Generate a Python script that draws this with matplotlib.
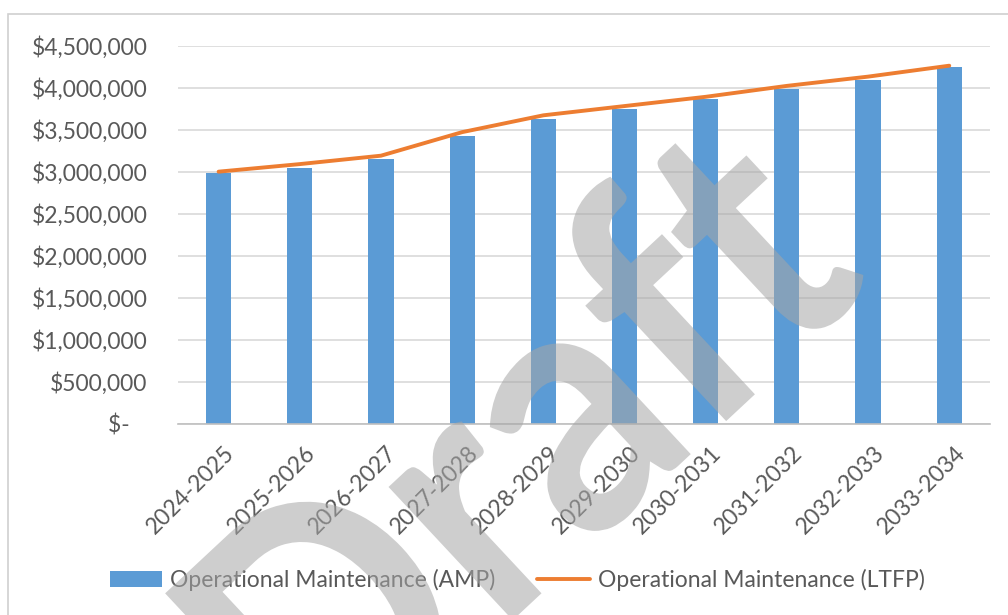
import numpy as np
import matplotlib
matplotlib.use("Agg")
import matplotlib.pyplot as plt
import matplotlib.transforms as mtransforms
from matplotlib.ticker import FuncFormatter
from matplotlib.patches import Rectangle, PathPatch
from matplotlib.textpath import TextPath
from matplotlib.font_manager import FontProperties

# financial years and the two maintenance series ($)
years = ['2024-2025', '2025-2026', '2026-2027', '2027-2028', '2028-2029',
         '2029-2030', '2030-2031', '2031-2032', '2032-2033', '2033-2034']
amp = [2990000, 3040000, 3150000, 3430000, 3630000,
       3740000, 3860000, 3980000, 4090000, 4240000]
ltfp = [3000000, 3090000, 3190000, 3470000, 3670000,
        3780000, 3890000, 4020000, 4130000, 4260000]

plt.rcParams['font.family'] = ['Lato', 'DejaVu Sans']
text_col = '#595959'
grid_col = '#D9D9D9'

fig = plt.figure(figsize=(10.08, 6.15), dpi=100)
ax = fig.add_axes([0.1766, 0.3106, 0.8054, 0.6154])

x = np.arange(len(years))
bars = ax.bar(x, amp, width=0.31, color='#5B9BD5', zorder=2,
              label='Operational Maintenance (AMP)')
line, = ax.plot(x, ltfp, color='#ED7D31', lw=2.8, zorder=3,
                solid_capstyle='round',
                label='Operational Maintenance (LTFP)')

ax.set_xlim(-0.5, len(years) - 0.5)
ax.set_ylim(0, 4500000)
ax.set_yticks(np.arange(0, 4500001, 500000))


def money(v, pos):
    if v == 0:
        return '$-   '
    return '${:,.0f}'.format(v)


ax.yaxis.set_major_formatter(FuncFormatter(money))
ax.set_xticks(x)
ax.set_xticklabels(years, rotation=45, ha='right', va='top',
                   rotation_mode='anchor')
ax.tick_params(axis='y', length=0, pad=22, labelsize=16.5, labelcolor=text_col)
ax.tick_params(axis='x', length=0, pad=13, labelsize=16.5, labelcolor=text_col)
shift = mtransforms.ScaledTranslation(5 / 100, 0, fig.dpi_scale_trans)
for lab in ax.get_xticklabels():
    lab.set_transform(lab.get_transform() + shift)

ax.grid(axis='y', color=grid_col, lw=1.2, zorder=0)
for s in ['top', 'right', 'left']:
    ax.spines[s].set_visible(False)
ax.spines['bottom'].set_color('#BFBFBF')
ax.spines['bottom'].set_linewidth(1.2)

leg = fig.legend([bars, line], [bars.get_label(), line.get_label()],
                 loc='center', bbox_to_anchor=(0.513, 0.057), ncol=2,
                 frameon=False, fontsize=16.5, handlelength=2.3,
                 handleheight=0.65, handletextpad=0.35, columnspacing=1.8)
for t in leg.get_texts():
    t.set_color(text_col)

# chart area border
fig.patches.append(Rectangle((8 / 1008, -0.1), 1.1, 1.1 - 14 / 615,
                             transform=fig.transFigure, fill=False,
                             edgecolor='#D0D0D0', lw=1.2))

# watermark, narrowed to a ~2.05 em ink width, then rotated (pixel coords)
wm_path = TextPath((0, 0), 'Draft', size=1,
                   prop=FontProperties(family='Lato', weight='bold'))
ext = wm_path.get_extents()
kx = 2.05 / ext.width
wm_tf = (mtransforms.Affine2D().translate(-ext.x0, 0).scale(kx, 1)
         .translate(0.07, 0).scale(355).rotate_deg(43).translate(322, -183))
fig.add_artist(PathPatch(wm_path, transform=wm_tf, facecolor='#A6A6A6',
                         edgecolor='none', alpha=0.55, zorder=10))

fig.savefig('out.png', dpi=100)
